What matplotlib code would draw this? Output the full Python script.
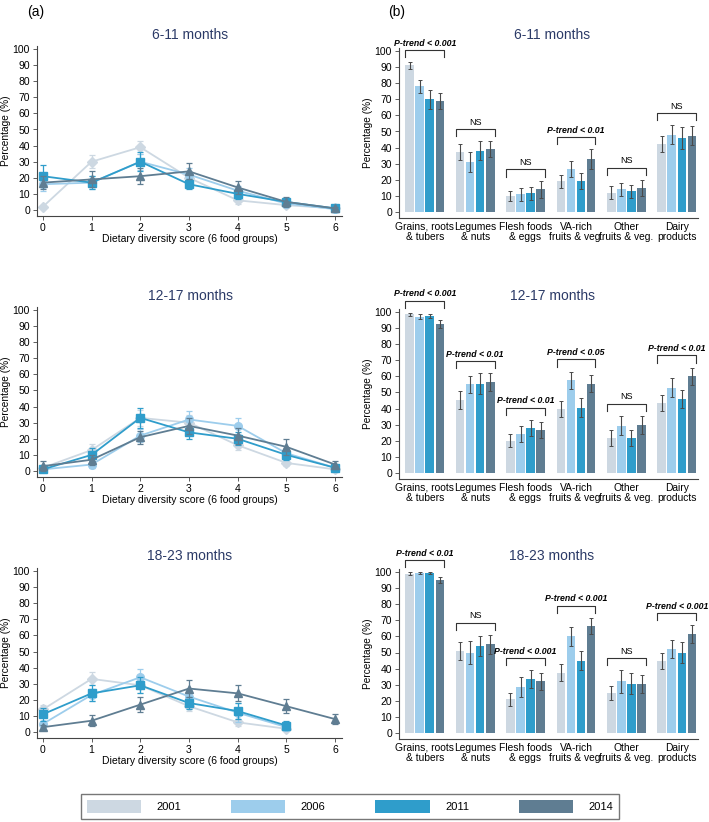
import numpy as np
import matplotlib
matplotlib.use("Agg")
import matplotlib.pyplot as plt
from matplotlib.patches import Patch

plt.rcParams['font.family'] = ['Liberation Sans', 'DejaVu Sans']

# 数据
years = ['2001', '2006', '2011', '2014']
colors = ['#cdd8e2', '#9dcdec', '#2f9dcb', '#5f7d92']
markers = ['D', 'o', 's', '^']
age_groups = ['6-11 months', '12-17 months', '18-23 months']

dds_scores = [0, 1, 2, 3, 4, 5, 6]

# 左图：膳食多样性得分分布 (%)
dds_6_11 = [
    [2, 30, 39, 20, 6, 3, 1],
    [16, 17, 30, 22, 12, 4, 0.5],
    [21, 17, 30, 16, 10, 5, 1],
    [17, 19, 21, 24, 14, 5, 1],
]
dds_6_11_err = [
    [1, 4, 4, 4, 2, 1, 0.5],
    [4, 4, 5, 4, 3, 2, 0.5],
    [7, 4, 6, 3, 3, 2, 1],
    [4, 5, 5, 5, 4, 3, 1],
]
dds_12_17 = [
    [2, 13, 33, 30, 16, 5, 1],
    [1, 4, 22, 32, 28, 11, 2],
    [1, 10, 33, 24, 20, 10, 2],
    [3, 7, 21, 28, 22, 15, 4],
]
dds_12_17_err = [
    [1, 4, 5, 5, 3, 2, 1],
    [1, 2, 4, 5, 5, 3, 1],
    [1, 4, 6, 4, 4, 3, 1],
    [3, 3, 4, 5, 5, 5, 2.5],
]
# 18-23个月：2001-2011 只有 0-5 分
dds_18_23 = [
    [14, 33, 29, 16, 6, 2],
    [5, 23, 34, 22, 12, 3],
    [11, 24, 29, 18, 13, 4],
    [3, 7, 17, 27, 24, 16, 8],
]
dds_18_23_err = [
    [3, 4, 5, 3, 2, 1],
    [2, 4, 5, 4, 6, 2],
    [4, 5, 5, 4, 5, 3],
    [1.5, 3.5, 4.5, 5, 5, 4.5, 3],
]

# 右图：各食物组摄入比例 (%)
food_groups = ['Grains, roots\n& tubers', 'Legumes\n& nuts', 'Flesh foods\n& eggs',
               'VA-rich\nfruits & veg.', 'Other\nfruits & veg.', 'Dairy\nproducts']
food_6_11 = [
    [91, 37, 10, 19, 12, 42.5],
    [78, 31, 11, 26.5, 14, 48],
    [70, 38, 11.5, 19, 13, 46],
    [69, 39, 14, 33, 15, 47.5],
]
food_6_11_err = [
    [2, 5, 3, 4, 4, 5],
    [4, 6, 4, 5, 4, 6],
    [6, 6, 4, 5, 4, 7],
    [5, 5, 5, 6, 5, 6],
]
food_12_17 = [
    [98.5, 45.5, 20, 40, 22, 43.5],
    [97, 55, 24.5, 57.5, 29.5, 53],
    [97.5, 55.5, 28, 40.5, 22, 46],
    [92.5, 56.5, 26.5, 55.5, 30, 60],
]
food_12_17_err = [
    [1, 5.5, 4, 5, 5, 5],
    [1.5, 5.5, 5, 5.5, 6, 6],
    [1.5, 6.5, 5, 6, 5, 5.5],
    [2.5, 5.5, 5, 5.5, 5.5, 5.5],
]
food_18_23 = [
    [99, 51, 21, 37.5, 25, 44.5],
    [99.5, 50, 28.5, 60, 32, 52],
    [99.5, 54, 33.5, 45, 30.5, 50],
    [95, 55, 32, 66.5, 30.5, 61.5],
]
food_18_23_err = [
    [1, 5.5, 4, 5.5, 4.5, 5],
    [0.5, 7, 6, 6, 7, 5.5],
    [0.5, 6, 5.5, 6, 6.5, 6.5],
    [2, 6, 5, 5, 5.5, 5.5],
]
trend_6_11 = ['P-trend < 0.001', 'NS', 'NS', 'P-trend < 0.01', 'NS', 'NS']
trend_12_17 = ['P-trend < 0.001', 'P-trend < 0.01', 'P-trend < 0.01', 'P-trend < 0.05', 'NS', 'P-trend < 0.01']
trend_18_23 = ['P-trend < 0.01', 'NS', 'P-trend < 0.001', 'P-trend < 0.001', 'NS', 'P-trend < 0.001']

left_data = [(dds_6_11, dds_6_11_err), (dds_12_17, dds_12_17_err), (dds_18_23, dds_18_23_err)]
right_data = [(food_6_11, food_6_11_err, trend_6_11), (food_12_17, food_12_17_err, trend_12_17),
              (food_18_23, food_18_23_err, trend_18_23)]

W, H = 709, 822
fig = plt.figure(figsize=(W / 100, H / 100), dpi=100)
title_color = '#2b3a67'
ppu = 1.61
ymin, ymax = -3.5, 102


def px_axes(x0, x1, y_zero):
    # 根据像素位置创建坐标轴
    top = y_zero - ymax * ppu
    bottom = y_zero - ymin * ppu
    return fig.add_axes([x0 / W, 1 - bottom / H, (x1 - x0) / W, (bottom - top) / H])


def style_axes(ax):
    for s in ['top', 'right']:
        ax.spines[s].set_visible(False)
    for s in ['left', 'bottom']:
        ax.spines[s].set_color('#444444')
        ax.spines[s].set_linewidth(0.8)
    ax.set_ylim(ymin, ymax)
    ax.set_yticks(range(0, 101, 10))
    ax.tick_params(axis='both', labelsize=7.5, length=3, width=0.6, color='#444444', pad=2)
    ax.set_ylabel('Percentage (%)', fontsize=7.3, labelpad=1)


left_zero = [210, 471, 732]
right_zero = [212, 473, 733]
title_y = [35, 296, 556]

for r in range(3):
    # 左图：折线图
    ax = px_axes(37, 342, left_zero[r])
    style_axes(ax)
    vals, errs = left_data[r]
    for k in range(4):
        x = dds_scores[:len(vals[k])]
        ax.errorbar(x, vals[k], yerr=errs[k], color=colors[k], marker=markers[k],
                    markersize=5.5 if markers[k] != 'D' else 5, linewidth=1.3,
                    elinewidth=0.9, capsize=2, capthick=0.9, zorder=2 + k)
    ax.set_xlim(-0.12, 6.14)
    ax.set_xticks(dds_scores)
    ax.set_xlabel('Dietary diversity score (6 food groups)', fontsize=7.5, labelpad=1)
    fig.text(190 / W, 1 - title_y[r] / H, age_groups[r], ha='center', va='center',
             fontsize=10, color=title_color)

    # 右图：柱状图
    ax = px_axes(399, 698, right_zero[r])
    style_axes(ax)
    vals, errs, trends = right_data[r]
    xg = np.arange(len(food_groups))
    offsets = np.array([-1.5, -0.5, 0.5, 1.5]) * 0.2
    for k in range(4):
        ax.bar(xg + offsets[k], vals[k], width=0.17, color=colors[k], zorder=2)
        ax.errorbar(xg + offsets[k], vals[k], yerr=errs[k], fmt='none', ecolor='#4a4a4a',
                    elinewidth=0.8, capsize=1.6, capthick=0.7, zorder=3)
    for g in range(len(food_groups)):
        top = max(vals[k][g] + errs[k][g] for k in range(4))
        y0, y1 = top + 3, top + 7.5
        xl, xr = g - 0.385, g + 0.385
        ax.plot([xl, xl, xr, xr], [y0, y1, y1, y0], color='#333333', linewidth=0.8,
                clip_on=False)
        if trends[g] == 'NS':
            ax.text(g, y1 + 1.5, trends[g], ha='center', va='bottom', fontsize=6.5)
        else:
            ax.text(g, y1 + 1.5, trends[g], ha='center', va='bottom', fontsize=6.3,
                    fontweight='bold', fontstyle='italic')
    ax.set_xlim(-0.51, 5.42)
    ax.set_xticks(xg)
    ax.set_xticklabels(food_groups, fontsize=7.4, linespacing=1.0)
    ax.tick_params(axis='x', length=0, pad=3)
    fig.text(552 / W, 1 - title_y[r] / H, age_groups[r], ha='center', va='center',
             fontsize=10, color=title_color)

fig.text(36 / W, 1 - 12 / H, '(a)', ha='center', va='center', fontsize=10)
fig.text(397 / W, 1 - 12 / H, '(b)', ha='center', va='center', fontsize=10)

# 图例
handles = [Patch(facecolor=c, edgecolor='none') for c in colors]
leg = fig.legend(handles, years, loc='center', bbox_to_anchor=(350 / W, 1 - 806.5 / H), ncol=4,
                 fontsize=8, frameon=True, fancybox=False, handlelength=4.9, handleheight=1.5,
                 handletextpad=1.4, columnspacing=4.45, borderpad=0.55)
leg.get_frame().set_edgecolor('#555555')
leg.get_frame().set_linewidth(1.0)

fig.savefig('out.png', dpi=100)
